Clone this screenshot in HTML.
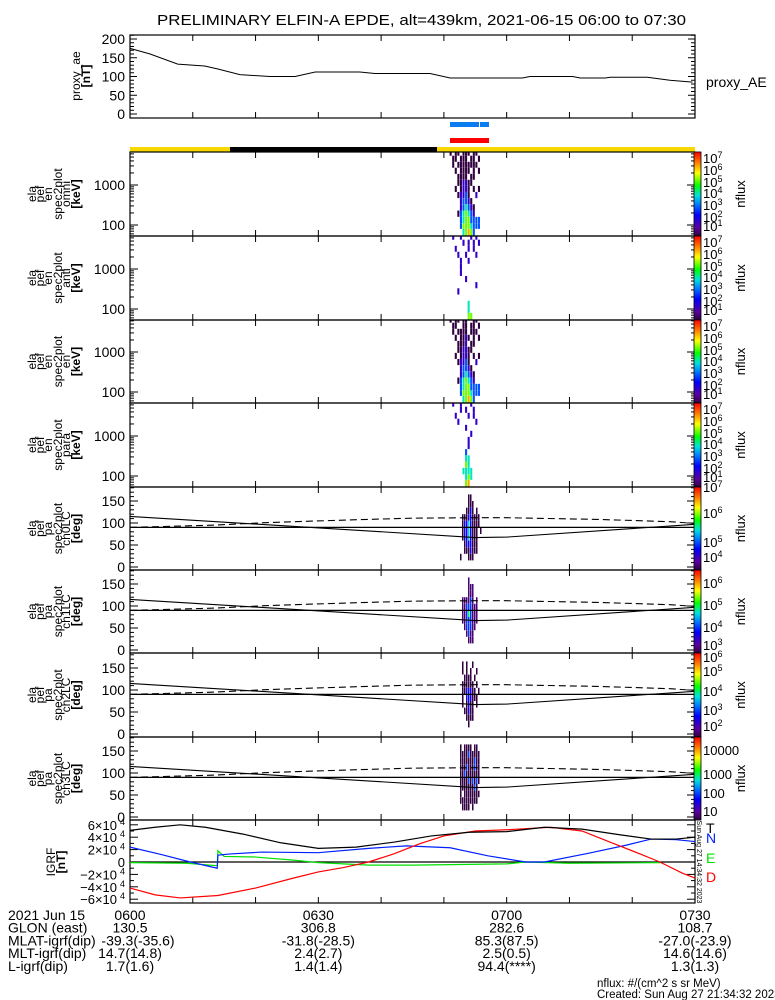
<!DOCTYPE html>
<html><head><meta charset="utf-8"><style>
html,body{margin:0;padding:0;background:#fff;}
svg{display:block;font-family:"Liberation Sans",sans-serif;}
</style></head><body>
<svg id="chart" width="775" height="1000" viewBox="0 0 775 1000" xmlns="http://www.w3.org/2000/svg">
<rect width="775" height="1000" fill="#fff"/>
<text x="157" y="25" font-size="15" textLength="529" lengthAdjust="spacingAndGlyphs">PRELIMINARY ELFIN-A EPDE, alt=439km, 2021-06-15 06:00 to 07:30</text>
<g id="g"></g>
</svg>
<script>
// ---- data ----
const aeTimes=[0,3.2,7.6,11.9,14,17.5,22.3,26.3,29.5,36.6,39,47.8,51,62.5,63.7,70.5,71.7,75.7,76.5,82.4,86,89.6];
const aeValues=[175,160,133,128,120,105,100,100,112,112,108,108,96,96,100,100,96,96,98,98,90,85];
const aeTicks=[0,50,100,150,200];
const timeTickLabels=["0600","0630","0700","0730"];
const specTimeStart=50.5, specTimeStep=0.41;
const energyEdges=[50,80,110,160,230,330,470,670,950,1350,1900,2700,3800,5400,7700];
// rows: high energy (top) -> low energy (bottom); digit = log10 nflux, 0 = no data
const specOmni=["01011011101100","00110111011010","00101111111100","00010111101010","00001111011000","00001122110000","00010122101010","00001223100200","00000233210000","00000234321000","00001345432000","00000345533330","00000355543330","00000045653000"];
const specAnti=["00200200020200","00000020202020","00020000202000","00002002000200","00000200200000","00000200000000","00000200000000","00000002000000","00000000000200","00002000000000","00000000000000","00000000400000","00000000400000","00000000550000"];
const specPerp=["01011011001100","00110011011010","00101111011100","00010112101010","00001112011000","00001122110000","00010122101010","00001223100200","00000233210000","00000234321000","00001345432000","00000345533330","00000355543330","00000045653000"];
const specPara=["00200200020000","00000202002000","00020000202000","00002000000200","00000002000000","00000000020000","00000000200000","00000000200000","00000003000000","00000004400000","00000005400000","00000044440000","00000004540000","00000005600000"];
const paTimeStart=52.25, paTimeStep=0.3186;
// rows: PA 180 (top) -> 0 (bottom), 15 deg bins
const pa0=["0000000000000","0000033000000","0000033300000","0000334303000","0033344333300","0034454333300","0034454333030","0034454333000","0003444333000","0003334333000","0300033300000","0000000000000"];
const pa1=["0000000000000","0000030000000","0000033300000","0000033300000","0033334303000","0033444333000","0033454333000","0033444333000","0003444330000","0000343300000","0000033300000","0000000000000"];
const pa2=["0000000000000","0020200200000","0020202002000","0002222020000","0022222202000","0022333220200","0020333222000","0020232202000","0002232200000","0000222200000","0000020000000","0000000000000"];
const pa3=["0000000000000","0101111011000","0111121111100","0111111121100","0111211121100","0112111111100","0111121212100","0111111121000","0101111111100","0111111111000","0011110100000","0000000000000"];
const lcTimes=[0,55,60,90];
const lcValues=[115,67,68,97];
const alcTimes=[0,13,22,35,45,55,60,75,86,90];
const alcValues=[90,95,101,107,111,112,112,108,103,99];
const paTicks=[0,50,100,150];
const igrfTimes=[0,4,8,12,18,24,30,36,42,48,54,60,66,72,78,83,87,90];
const igrfT=[5.1,5.6,6.0,5.6,4.5,3.1,2.2,2.4,3.2,4.2,4.8,4.9,5.6,5.3,4.4,3.7,3.7,4.0];
const igrfDTimes=[0,4,8,14,20,26,30,34,38,42,46,50,55,60,67,72,77,81,84.4,88,90];
const igrfD=[-4.2,-5.3,-5.8,-5.4,-4.2,-2.6,-1.6,-0.9,0,1.3,2.9,4.2,5.0,5.2,5.6,5.0,3.0,1.4,0,-1.8,-2.6];
const igrfNTimes=[0,5,9.6,13.9,14,16,21,30,38,44,51,57,63,66,73,79,83,87,90];
const igrfN=[2.4,1.2,0,-1.0,1.1,1.3,1.6,1.5,2.2,2.6,2.3,1.0,0,0,1.4,2.7,3.7,3.6,3.3];
const igrfETimes=[0,9,13.9,14,15,20,26,30,38,45,60,63,70,84.6];
const igrfE=[-0.1,-0.2,-0.6,1.8,0.9,0.8,0.3,-0.1,-0.5,-0.5,-0.3,0,-0.2,-0.1];
const igrfTicks=[-6,-4,-2,0,2,4,6];

// ---- layout ----
const NS="http://www.w3.org/2000/svg", G=document.getElementById('g');
const X0=130,X1=695;
function xs(t){return X0+t/90*(X1-X0);}
function el(tag,attrs,parent){const e=document.createElementNS(NS,tag);for(const k in attrs)e.setAttribute(k,attrs[k]);(parent||G).appendChild(e);return e;}
function txt(s,x,y,size,attrs){const e=el('text',Object.assign({x:x,y:y,'font-size':size},attrs||{}));e.textContent=s;return e;}
const stops=[[0,[48,0,64]],[0.1,[90,0,160]],[0.25,[0,0,255]],[0.38,[0,128,255]],[0.48,[0,224,224]],[0.6,[0,255,0]],[0.75,[255,255,0]],[0.87,[255,128,0]],[1,[255,0,0]]];
function cmap(t){t=Math.max(0,Math.min(1,t));for(let i=1;i<stops.length;i++){if(t<=stops[i][0]){const a=stops[i-1],b=stops[i],f=(t-a[0])/(b[0]-a[0]);return 'rgb('+a[1].map((v,j)=>Math.round(v+(b[1][j]-v)*f)).join(',')+')';}}return 'rgb(255,0,0)';}
function xticks(top,bot){for(let m=10;m<90;m+=10){el('line',{x1:xs(m),x2:xs(m),y1:top,y2:top+6,stroke:'#000'});el('line',{x1:xs(m),x2:xs(m),y1:bot,y2:bot-6,stroke:'#000'});}}
function box(top,bot,name){const r=el('rect',{x:X0,y:top,width:X1-X0,height:bot-top,fill:'none',stroke:'#000','stroke-width':1.2});}
function ylabel(lines,cy,xs0){lines.forEach((s,i)=>{const t=txt(s,xs0[i],cy,12,{transform:'rotate(-90 '+xs0[i]+' '+cy+')','text-anchor':'middle'});if(s.startsWith('['))t.setAttribute('font-weight','bold');});}
function poly(ts,vs,xf,yf,attrs){const p=el('polyline',Object.assign({points:ts.map((t,i)=>xf(t)+','+yf(vs[i])).join(' '),fill:'none'},attrs));return p;}
function colorbar(top,bot,labels){
  const id='cb'+top;const d=el('linearGradient',{id:id,x1:0,y1:1,x2:0,y2:0});
  stops.forEach(s=>el('stop',{offset:s[0],'stop-color':cmap(s[0])},d));
  const r=el('rect',{x:694,y:top,width:7,height:bot-top,fill:'url(#'+id+')',stroke:'#000','stroke-width':0.8});
  
  labels.forEach(l=>{const t=txt('',703,l[1],13);if(l[2]){t.textContent='10';const s=el('tspan',{dy:-5,'font-size':9},t);s.textContent=l[0];}else t.textContent=l[0];});
  const cy=(top+bot)/2;const n=txt('nflux',745,cy,13,{transform:'rotate(-90 745 '+cy+')','text-anchor':'middle'});
  
}

// ---- AE panel ----
const aeTop=35,aeBot=118; const aeY=v=>114-v*0.375;
box(aeTop,aeBot,'proxy-ae-panel');xticks(aeTop,aeBot);
for(let v=0;v<=210;v+=10){const L=v%50==0?7:4;el('line',{x1:X0,x2:X0+L,y1:aeY(v),y2:aeY(v),stroke:'#000'});el('line',{x1:X1,x2:X1-L,y1:aeY(v),y2:aeY(v),stroke:'#000'});}
aeTicks.forEach(v=>{const t=txt(String(v),125,aeY(v)+5,14,{'text-anchor':'end'});});
const aeLine=poly(aeTimes,aeValues,xs,aeY,{stroke:'#000','stroke-width':1});

ylabel(['proxy_ae','[nT]'],76,[80,90]);
const aeLeg=txt('proxy_AE',706,87,14);

// ---- status bars ----
const b1=el('rect',{x:450,y:122,width:29,height:5,fill:'#0a7cf0'});
const b1b=el('rect',{x:480,y:122,width:9,height:5,fill:'#0a7cf0'});
const b2=el('rect',{x:450,y:138,width:39,height:5,fill:'#f00'});
const b3=el('rect',{x:X0,y:147,width:X1-X0,height:5,fill:'#f8d800'});
const b4=el('rect',{x:230,y:147,width:207,height:5,fill:'#000'});

// ---- spectrogram panels ----
const specPanels=[[152,236,specOmni,'omni',1,7],[236,320,specAnti,'anti',1,7],[320,403,specPerp,'en',1,7],[403,487,specPara,'para',1,7]];
const specLabels=[['7',11,1],['6',23,1],['5',35,1],['4',46,1],['3',58,1],['2',70,1],['1',79,1]];
specPanels.forEach((p,pi)=>{
  const [top,bot,mat,nm,lo,hi]=p;const ey=e=>bot-11-(Math.log10(e)-2)*40;
  mat.forEach((row,ri)=>{const bi=mat.length-1-ri;[...row].forEach((c,ci)=>{const v=+c;if(!v)return;
    const t0=specTimeStart+ci*specTimeStep;const y1=Math.max(top,ey(energyEdges[bi+1])),y2=Math.min(bot,ey(energyEdges[bi]));
    const r=el('rect',{x:xs(t0),y:y1,width:xs(t0+specTimeStep)-xs(t0)-0.5,height:y2-y1,fill:cmap((v-lo)/(hi-lo))});
    });});
  box(top,bot,'spectrogram-panel-'+nm);xticks(top,bot);
  for(let d=1;d<=4;d++)for(let k=1;k<10;k++){const e=k*Math.pow(10,d);const y=ey(e);if(y<top||y>bot)continue;const L=k==1?8:4;el('line',{x1:X0,x2:X0+L,y1:y,y2:y,stroke:'#000'});el('line',{x1:X1,x2:X1-L,y1:y,y2:y,stroke:'#000'});}
  [100,1000].forEach(e=>{const t=txt(String(e),125,ey(e)+5,14,{'text-anchor':'end'});});
  ylabel(['ela','pef','en','spec2plot',nm,'[keV]'],(top+bot)/2,[36,44,52,62,70,80]);
  colorbar(top,bot,specLabels.map(l=>[l[0],top+l[1],l[2]]));
});

// ---- pitch angle panels ----
const paPanels=[[487,570,pa0,'ch0LC',3,7.3,[['7',492,1],['6',518,1],['5',547,1],['4',562,1]]],[570,653,pa1,'ch1LC',2.8,6.8,[['6',588,1],['5',610,1],['4',632,1],['3',650,1]]],[653,737,pa2,'ch2LC',2,6.5,[['6',662,1],['5',676,1],['4',696,1],['3',715,1],['2',731,1]]],[737,820,pa3,'ch3LC',1,4.2,[['10000',755,0],['1000',779,0],['100',798,0],['10',816,0]]]];
paPanels.forEach(p=>{
  const [top,bot,mat,nm,lo,hi,labs]=p;const py=a=>bot-3-a*0.44;
  mat.forEach((row,ri)=>{const bi=mat.length-1-ri;[...row].forEach((c,ci)=>{const v=+c;if(!v)return;
    const t0=paTimeStart+ci*paTimeStep;const y1=py(bi*15+15),y2=py(bi*15);
    const r=el('rect',{x:xs(t0),y:y1,width:Math.max(1.2,xs(t0+paTimeStep)-xs(t0)-0.5),height:y2-y1,fill:cmap((v-lo)/(hi-lo))});
    });});
  const h=el('line',{x1:X0,x2:X1,y1:py(90),y2:py(90),stroke:'#000','stroke-width':1.2});
  const lc=poly(lcTimes,lcValues,xs,py,{stroke:'#000','stroke-width':1.1});
  const alc=poly(alcTimes,alcValues,xs,py,{stroke:'#000','stroke-width':1.1,'stroke-dasharray':'7,4'});
  box(top,bot,'pitch-angle-panel-'+nm);xticks(top,bot);
  for(let a=0;a<=180;a+=10){const y=py(a);if(y<top)continue;const L=a%50==0?8:4;el('line',{x1:X0,x2:X0+L,y1:y,y2:y,stroke:'#000'});el('line',{x1:X1,x2:X1-L,y1:y,y2:y,stroke:'#000'});}
  paTicks.forEach(a=>{const t=txt(String(a),125,py(a)+5,14,{'text-anchor':'end'});});
  ylabel(['ela','pef','pa','spec2plot',nm,'[deg]'],(top+bot)/2,[36,44,52,62,70,80]);
  colorbar(top,bot,labs);
});

// ---- IGRF panel ----
const gTop=820,gBot=903;const gy=v=>862-v*6.2;
box(gTop,gBot,'igrf-panel');xticks(gTop,gBot);
for(let v=-6;v<=6;v+=1){const L=v%2==0?8:4;el('line',{x1:X0,x2:X0+L,y1:gy(v),y2:gy(v),stroke:'#000'});el('line',{x1:X1,x2:X1-L,y1:gy(v),y2:gy(v),stroke:'#000'});}
igrfTicks.forEach(v=>{let t;if(v==0){t=txt('0',125,gy(v)+5,13,{'text-anchor':'end'});}else{t=txt((v<0?'\u2212':'')+Math.abs(v)+'\u00d710',117,gy(v)+5,13,{'text-anchor':'end'});const s=el('tspan',{x:125,dy:-5,'font-size':9,'text-anchor':'end'},t);s.textContent='4';}});
const z=el('line',{x1:X0,x2:X1,y1:gy(0),y2:gy(0),stroke:'#000','stroke-width':1.2});
const lE=poly(igrfETimes,igrfE,xs,gy,{stroke:'#00e000','stroke-width':1.2});
const lN=poly(igrfNTimes,igrfN,xs,gy,{stroke:'#0020ff','stroke-width':1.2});
const lD=poly(igrfDTimes,igrfD,xs,gy,{stroke:'#f00','stroke-width':1.2});
const lT=poly(igrfTimes,igrfT,xs,gy,{stroke:'#000','stroke-width':1.2});
ylabel(['IGRF','[nT]'],862,[55,65]);
[['T',833,'#000'],['N',843,'#0020ff'],['E',863,'#00e000'],['D',882,'#f00']].forEach(l=>{const t=txt(l[0],706,l[1],14,{fill:l[2]});});
const stamp=txt('Sun Aug 27 14:34:32 2023',697,862,7,{transform:'rotate(90 697 862)','text-anchor':'middle'});

// ---- bottom annotation ----
const rowNames=['2021 Jun 15','GLON (east)','MLAT-igrf(dip)','MLT-igrf(dip)','L-igrf(dip)'];
const rowVals=[timeTickLabels,['130.5','306.8','282.6','108.7'],['-39.3(-35.6)','-31.8(-28.5)','85.3(87.5)','-27.0(-23.9)'],['14.7(14.8)','2.4(2.7)','2.5(0.5)','14.6(14.6)'],['1.7(1.6)','1.4(1.4)','94.4(****)','1.3(1.3)']];
rowNames.forEach((n,i)=>{const y=920+i*12.7;const t=txt(n,8,y,14);
  rowVals[i].forEach((v,j)=>{const tt=txt(v,xs(j*30)+(i==2&&j==0?8:0),y,14,{'text-anchor':'middle'});});});
const f1=txt('nflux: #/(cm^2 s sr MeV)',597,987,11.5);
const f2=txt('Created: Sun Aug 27 21:34:32 2023',597,998,11.5);
</script>
</body></html>
